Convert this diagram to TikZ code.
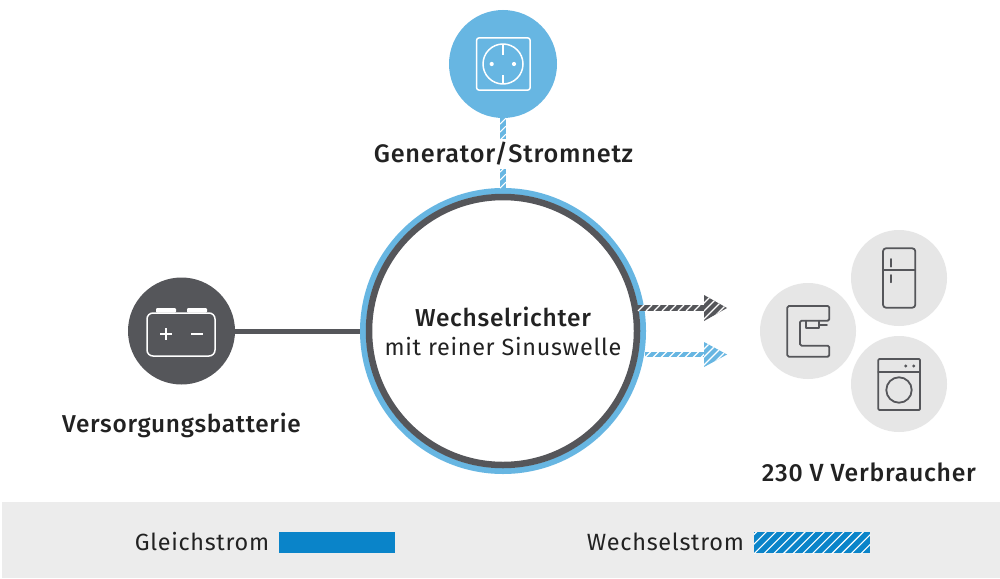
\documentclass[tikz,border=0pt]{standalone}
\usepackage{fontspec}
\setmainfont{Fira Sans}
\newfontfamily\medfont[LetterSpace=3,BoldFont={Fira Sans}]{Fira Sans Medium}
\newfontfamily\regfont[LetterSpace=3]{Fira Sans}
\usetikzlibrary{decorations.markings}
\definecolor{acblue}{HTML}{67B6E2}
\definecolor{dcdark}{HTML}{55565A}
\definecolor{dcblue}{HTML}{0A84C9}
\definecolor{lightgray}{HTML}{E6E6E6}
\definecolor{bandgray}{HTML}{ECECEC}
\definecolor{textdark}{HTML}{222222}
\tikzset{
  x=1pt,y=-1pt,
  disc/.style={circle,inner sep=0pt,minimum size=#1},
  lab/.style={text=textdark,inner sep=0pt,font=\medfont\fontsize{#1}{26}\selectfont},
  reglab/.style={text=textdark,inner sep=0pt,font=\regfont\fontsize{#1}{26}\selectfont},
  icon/.style={draw=white,line width=1.5pt,line join=round},
  dev/.style={draw=dcdark,line width=1.8pt,line join=round,line cap=round},
  hatchline/.style={line width=5.4pt,postaction={decorate},decoration={markings,
    mark=between positions 3pt and -1pt step 8pt with {\draw[white,line width=1.1pt] (-3pt,-3pt)--(3pt,3pt);}}},
  hatchlinev/.style={line width=5.4pt,postaction={decorate},decoration={markings,
    mark=between positions 3pt and -1pt step 8pt with {\draw[white,line width=1.1pt] (-3pt,3pt)--(3pt,-3pt);}}},
  hatchbox/.style={path picture={
    \foreach \i in {-6,...,20}{
      \draw[white,line width=1.1pt] ([xshift=\i*#1,yshift=-30pt]path picture bounding box.south west) -- ++(70pt,70pt);
    }}},
}
\begin{document}
\begin{tikzpicture}
\useasboundingbox (0,0) rectangle (1000,578);
\fill[white] (0,0) rectangle (1000,578);
\fill[bandgray] (2,502) rectangle (1000,578);

% main nodes
\node[disc=280pt,draw=acblue,line width=6pt,fill=white] (inv) at (503,331) {};
\draw[dcdark,line width=6.5pt] (inv.center) circle (134);
\node[disc=108pt,fill=acblue] (gen) at (503,64) {};
\node[disc=107pt,fill=dcdark] (bat) at (181.5,331) {};
\node[disc=96pt,fill=lightgray] (fridge) at (899,278) {};
\node[disc=96pt,fill=lightgray] (coffee) at (808,331) {};
\node[disc=96pt,fill=lightgray] (washer) at (899,384) {};

% connectors
\draw[acblue,hatchlinev] (gen) -- (inv);
\draw[dcdark,line width=5pt] (bat) -- (inv);
\coordinate (ds) at (638,308);
\coordinate (dh) at (705,308);
\coordinate (as) at (645,354.5);
\coordinate (ah) at (705,354.5);
\draw[dcdark,hatchline] (ds) -- (dh);
\draw[acblue,hatchline] (as) -- (ah);
\fill[dcdark,hatchbox=8pt] (704,295) -- (727,308) -- (704,321) -- cycle;
\fill[acblue,hatchbox=8pt] (704,342) -- (727,354.5) -- (704,367) -- cycle;

% labels
\node[lab=25.3,fill=white,inner ysep=3pt] (genlab) at (503.5,154) {Generator/Stromnetz};
\node[lab=24.4] (batlab) at (181.5,425.5) {Versorgungsbatterie};
\node[lab=24.8] (loadlab) at (869,472) {230 V Verbraucher};
\node[lab=24.5] (invlab1) at (503,316.5) {Wechselrichter};
\node[reglab=23.4] (invlab2) at (503,347) {mit reiner Sinuswelle};

% socket icon
\draw[icon,rounded corners=2pt] (476.7,38) rectangle (530,90);
\draw[icon] (503,64) circle (20);
\draw[icon] (503,44) -- (503,55) (503,75) -- (503,84);
\fill[white] (491.7,64) circle (2.1) (514,64) circle (2.1);

% battery icon
\draw[icon,rounded corners=6pt] (147,313) rectangle (215,356);
\fill[white,rounded corners=1pt] (156,312.5) -- (156,308) -- (176,308) -- (176,312.5) -- cycle;
\fill[white,rounded corners=1pt] (187,312.5) -- (187,308) -- (207,308) -- (207,312.5) -- cycle;
\draw[icon] (160,334) -- (172,334) (166,328) -- (166,340) (191,334) -- (203,334);

% fridge icon
\draw[dev,rounded corners=3pt] (883,248.3) rectangle (915.3,307.7);
\draw[dev] (883,270) -- (915.3,270);
\draw[dev] (891,259) -- (891,266.7) (891,275) -- (891,282.3);

% coffee icon
\draw[dev,rounded corners=1.5pt] (787.3,306) -- (829.3,306) -- (829.3,320.7) -- (800,320.7) -- (800,345.7) -- (829.3,345.7) -- (829.3,356.7) -- (787.3,356.7) -- cycle;
\draw[dev] (806,320.7) -- (806,328.3) -- (819.3,328.3) -- (819.3,320.7);
\draw[dev] (819.3,325) -- (827,325);

% washer icon
\draw[dev,rounded corners=1pt] (878.3,359) rectangle (920,410);
\draw[dev] (878.3,371.7) -- (920,371.7);
\draw[dev] (899,390) circle (12.7);
\fill[dcdark] (905.7,366) circle (1.6) (913.7,366) circle (1.6);

% legend
\node[reglab=23.4] (leg1) at (202,542) {Gleichstrom};
\node[reglab=23.5] (leg2) at (665.5,542) {Wechselstrom};
\node[fill=dcblue,minimum width=116pt,minimum height=21pt,inner sep=0pt] (sw1) at (337,542.5) {};
\node[fill=dcblue,minimum width=116pt,minimum height=21pt,inner sep=0pt,hatchbox=9.7pt] (sw2) at (812,542.5) {};
\end{tikzpicture}
\end{document}
